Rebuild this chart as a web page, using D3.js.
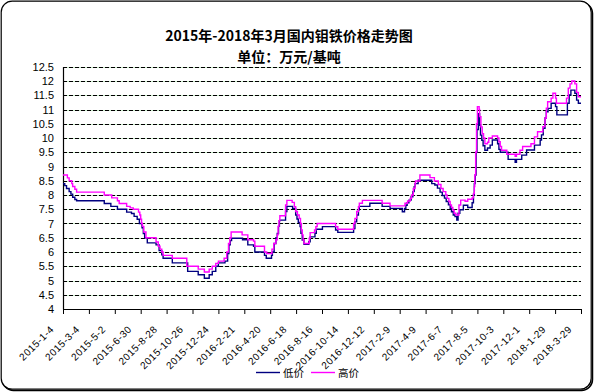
<!DOCTYPE html>
<html><head><meta charset="utf-8">
<script src="https://cdn.jsdelivr.net/npm/d3@7"></script>
<style>body{margin:0;background:#fff}</style>
</head><body><svg id="c" width="594" height="392"></svg>
<script>
const titleLines = ["2015年-2018年3月国内钼铁价格走势图", "单位：万元/基吨"];
const tickLabels = ["2015-1-4","2015-3-4","2015-5-2","2015-6-30","2015-8-28","2015-10-26","2015-12-24","2016-2-21","2016-4-20","2016-6-18","2016-8-16","2016-10-14","2016-12-12","2017-2-9","2017-4-9","2017-6-7","2017-8-5","2017-10-3","2017-12-1","2018-1-29","2018-3-29"];
const tickStepDays = 59;
const totalDays = 1180;
const yTicks = [4,4.5,5,5.5,6,6.5,7,7.5,8,8.5,9,9.5,10,10.5,11,11.5,12,12.5];
const seriesNames = ["低价","高价"];
const seriesColors = ["#000080","#FF00FF"];
// [day index since 2015-1-4, price]
const lowPrice = [[0,8.4],[4,8.33],[8,8.23],[14,8.12],[18,8.03],[22,7.92],[27,7.84],[31,7.8],[94,7.7],[109,7.6],[124,7.5],[145,7.4],[156,7.35],[162,7.25],[169,7.15],[174,7.0],[180,6.85],[183,6.65],[186,6.5],[192,6.32],[212,6.25],[219,6.05],[225,5.9],[228,5.78],[249,5.62],[284,5.32],[308,5.2],[322,5.08],[333,5.2],[340,5.32],[348,5.5],[354,5.62],[369,5.68],[375,5.95],[378,6.25],[381,6.4],[384,6.48],[409,6.43],[421,6.25],[434,6.2],[437,6.0],[459,5.88],[463,5.78],[475,5.88],[477,6.0],[481,6.3],[485,6.5],[488,6.65],[491,6.9],[493,7.1],[494,7.12],[507,7.42],[510,7.6],[523,7.53],[530,7.3],[533,7.16],[536,7.04],[540,6.89],[542,6.66],[545,6.42],[549,6.27],[560,6.36],[563,6.53],[574,6.66],[577,6.8],[591,6.89],[621,6.77],[626,6.69],[662,6.82],[665,7.06],[669,7.3],[673,7.48],[675,7.6],[699,7.71],[727,7.6],[745,7.53],[773,7.41],[778,7.53],[781,7.64],[784,7.73],[788,7.82],[793,7.94],[797,8.12],[800,8.29],[802,8.4],[809,8.52],[840,8.4],[847,8.35],[853,8.24],[859,8.1],[864,7.98],[869,7.89],[873,7.77],[878,7.66],[882,7.53],[885,7.41],[889,7.3],[893,7.24],[897,7.12],[900,7.36],[904,7.48],[912,7.64],[922,7.56],[932,7.73],[935,8.0],[937,8.4],[939,8.7],[941,9.5],[943,10.3],[946,10.85],[949,10.45],[951,10.1],[954,9.92],[957,9.73],[961,9.57],[967,9.65],[973,9.75],[978,9.93],[990,9.8],[993,9.6],[996,9.5],[1014,9.25],[1030,9.15],[1033,9.25],[1045,9.4],[1056,9.58],[1074,9.75],[1087,9.93],[1090,10.11],[1094,10.34],[1098,10.7],[1101,10.92],[1105,11.04],[1112,11.22],[1122,11.1],[1125,10.81],[1149,11.22],[1153,11.51],[1157,11.68],[1166,11.57],[1170,11.33],[1174,11.22],[1180,11.22]];
const highPrice = [[0,8.7],[10,8.6],[14,8.5],[20,8.4],[22,8.3],[27,8.2],[31,8.1],[94,8.0],[111,7.9],[124,7.8],[128,7.7],[145,7.6],[153,7.55],[160,7.5],[172,7.4],[175,7.3],[177,7.15],[179,7.0],[181,6.9],[184,6.7],[189,6.5],[212,6.35],[217,6.2],[221,6.1],[225,6.0],[228,5.88],[249,5.78],[282,5.5],[308,5.4],[322,5.3],[333,5.4],[340,5.5],[348,5.6],[354,5.68],[367,5.78],[373,6.0],[377,6.3],[380,6.5],[383,6.7],[408,6.6],[421,6.43],[434,6.38],[437,6.2],[459,6.0],[464,5.95],[476,6.1],[480,6.3],[485,6.43],[488,6.6],[490,6.9],[492,7.1],[494,7.27],[507,7.65],[510,7.81],[522,7.74],[527,7.59],[530,7.42],[534,7.3],[538,7.18],[541,7.0],[543,6.77],[545,6.6],[547,6.42],[549,6.3],[561,6.48],[563,6.68],[573,6.77],[576,6.89],[579,7.0],[621,6.89],[626,6.8],[662,7.0],[665,7.18],[669,7.42],[673,7.59],[675,7.71],[682,7.81],[727,7.71],[745,7.62],[779,7.71],[785,7.79],[791,7.88],[794,8.0],[798,8.23],[802,8.41],[803,8.49],[813,8.7],[836,8.61],[846,8.49],[855,8.37],[861,8.23],[866,8.12],[872,8.0],[875,7.88],[879,7.77],[882,7.65],[885,7.56],[888,7.47],[891,7.36],[895,7.3],[902,7.65],[906,7.82],[916,7.78],[922,7.85],[932,7.9],[935,8.05],[937,8.3],[938,8.7],[940,9.5],[942,10.5],[944,11.1],[948,11.0],[949,10.75],[952,10.39],[955,10.15],[958,10.0],[961,9.8],[967,9.85],[970,10.0],[978,10.07],[990,10.0],[993,9.87],[996,9.7],[999,9.57],[1011,9.43],[1030,9.36],[1033,9.43],[1041,9.57],[1047,9.7],[1066,9.8],[1074,10.04],[1081,10.22],[1093,10.4],[1098,10.7],[1101,11.05],[1104,11.27],[1112,11.4],[1116,11.57],[1122,11.4],[1124,11.22],[1147,11.4],[1151,11.75],[1155,11.9],[1159,12.0],[1166,11.9],[1170,11.6],[1174,11.45],[1180,11.45]];

const svg = d3.select("#c");
const plotLeft = 63, plotRight = 581, plotTop = 66.75, plotBottom = 309;

// chart border with shadow
svg.append("rect").attr("x",2.5).attr("y",2.5).attr("width",590).attr("height",388)
  .attr("rx",11).attr("fill","none").attr("stroke","#000").attr("stroke-width",1.5);
svg.append("rect").attr("x",1.2).attr("y",1.2).attr("width",590).attr("height",388)
  .attr("rx",11).attr("fill","#fff").attr("stroke","#000").attr("stroke-width",1.2);

const x = d3.scaleLinear().domain([0,totalDays]).range([plotLeft,plotRight]);
const y = d3.scaleLinear().domain([4,12.5]).range([plotBottom,plotTop]);

// title
const tg = svg.append("g").attr("font-family","'Noto Sans CJK SC', sans-serif")
  .attr("font-weight","bold").attr("font-size",14).attr("text-anchor","middle");
tg.append("text").attr("x",289).attr("y",35).attr("dominant-baseline","central").text(titleLines[0]);
tg.append("text").attr("x",289).attr("y",55.5).attr("dominant-baseline","central").text(titleLines[1]);

// gridlines
const grid = svg.append("g");
const gvals = yTicks.filter(v => v > 4);
grid.selectAll("line.g1").data(gvals).join("line")
  .attr("x1",plotLeft).attr("x2",plotRight)
  .attr("y1",d=>Math.round(y(d))+0.5).attr("y2",d=>Math.round(y(d))+0.5)
  .attr("stroke","#c8ecc8").attr("stroke-width",1);
grid.selectAll("line.g2").data(gvals).join("line")
  .attr("x1",plotLeft).attr("x2",plotRight)
  .attr("y1",d=>Math.round(y(d))+0.5).attr("y2",d=>Math.round(y(d))+0.5)
  .attr("stroke","#000").attr("stroke-width",1).attr("stroke-dasharray","4,2");

// axes
const yAxis = d3.axisLeft(y).tickValues(yTicks).tickSize(0).tickSizeOuter(0).tickPadding(9)
  .tickFormat(d3.format("~g"));
const ya = svg.append("g").attr("transform",`translate(${plotLeft},0)`).call(yAxis);
ya.select(".domain").attr("stroke","#000").attr("stroke-width",1.2);
ya.selectAll("text").attr("font-family","'Liberation Sans', Arial, sans-serif").attr("font-size",11).attr("fill","#000");

const xAxis = d3.axisBottom(x).tickValues(d3.range(tickLabels.length).map(i=>i*tickStepDays))
  .tickSize(5).tickSizeOuter(0).tickFormat((d,i)=>tickLabels[i]);
const xa = svg.append("g").attr("transform",`translate(0,${plotBottom})`).call(xAxis);
xa.select(".domain").attr("stroke","#000").attr("stroke-width",1.2);
xa.selectAll(".tick line").attr("stroke","#000");
xa.selectAll("text").attr("y",0).attr("dy",0)
  .attr("transform","translate(-9,21) rotate(-45)")
  .attr("text-anchor","end")
  .attr("font-family","'Liberation Sans', Arial, sans-serif").attr("font-size",10)
  .attr("letter-spacing","0.5px").attr("fill","#000");

// lines
const line = d3.line().x(d=>x(d[0])).y(d=>y(d[1])).curve(d3.curveStepAfter);
[lowPrice, highPrice].forEach((s,i)=>{
  svg.append("path").datum(s).attr("d",line).attr("fill","none")
    .attr("stroke",seriesColors[i]).attr("stroke-width",1.4);
});

// legend
const lg = svg.append("g").attr("font-family","'Noto Sans CJK SC', sans-serif").attr("font-size",10.5);
const legX = [256, 311];
seriesNames.forEach((n,i)=>{
  lg.append("line").attr("x1",legX[i]).attr("x2",legX[i]+24).attr("y1",372.5).attr("y2",372.5)
    .attr("stroke",seriesColors[i]).attr("stroke-width",1.4);
  lg.append("text").attr("x",legX[i]+27).attr("y",372.5).attr("dominant-baseline","central").text(n);
});
</script></body></html>
